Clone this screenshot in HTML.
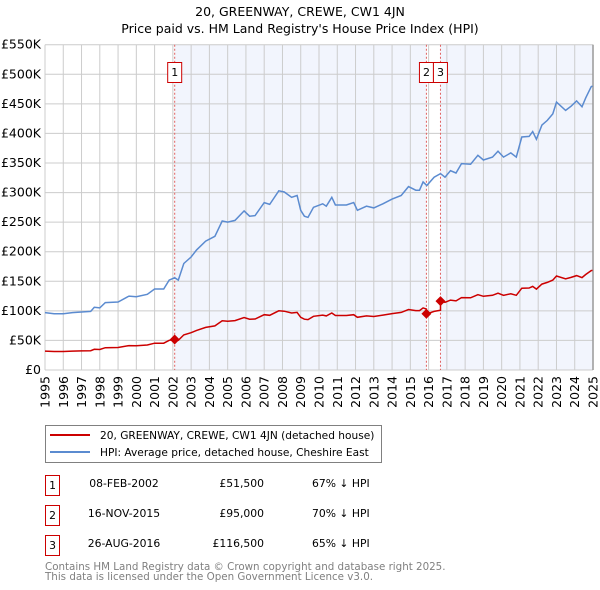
<!DOCTYPE html>
<html><head><meta charset="utf-8"><style>
body{margin:0;width:600px;height:590px;background:#fff;font-family:"DejaVu Sans","Liberation Sans",sans-serif;overflow:hidden}
</style></head><body>
<svg id="chart" width="600" height="590" xmlns="http://www.w3.org/2000/svg" style="position:absolute;left:0;top:0;font-family:'DejaVu Sans','Liberation Sans',sans-serif">
<text x="300" y="16" text-anchor="middle" font-size="12.5">20, GREENWAY, CREWE, CW1 4JN</text>
<text x="300" y="33" text-anchor="middle" font-size="12.5">Price paid vs. HM Land Registry's House Price Index (HPI)</text>
<g id="plot"></g>
<g>
<rect x="45.5" y="425.5" width="336" height="37" fill="#fff" stroke="#808080"/>
<line x1="50" y1="435" x2="90" y2="435" stroke="#cc0000" stroke-width="2"/>
<text x="100" y="439" font-size="10.6">20, GREENWAY, CREWE, CW1 4JN (detached house)</text>
<line x1="50" y1="452" x2="90" y2="452" stroke="#5b8bd0" stroke-width="2"/>
<text x="100" y="456" font-size="10.6">HPI: Average price, detached house, Cheshire East</text>
</g>
<g font-size="10.8">
<rect x="45.5" y="475.5" width="14" height="20" fill="#fff" stroke="#cc0000"/><text x="52.5" y="489" text-anchor="middle">1</text>
<text x="124" y="487" text-anchor="middle">08-FEB-2002</text><text x="264" y="487" text-anchor="end">£51,500</text><text x="312" y="487">67% ↓ HPI</text>
<rect x="45.5" y="505.5" width="14" height="20" fill="#fff" stroke="#cc0000"/><text x="52.5" y="519" text-anchor="middle">2</text>
<text x="124" y="517" text-anchor="middle">16-NOV-2015</text><text x="264" y="517" text-anchor="end">£95,000</text><text x="312" y="517">70% ↓ HPI</text>
<rect x="45.5" y="535.5" width="14" height="20" fill="#fff" stroke="#cc0000"/><text x="52.5" y="549" text-anchor="middle">3</text>
<text x="124" y="547" text-anchor="middle">26-AUG-2016</text><text x="264" y="547" text-anchor="end">£116,500</text><text x="312" y="547">65% ↓ HPI</text>
</g>
<text x="45" y="570" font-size="10.3" fill="#808080">Contains HM Land Registry data © Crown copyright and database right 2025.</text>
<text x="45" y="580" font-size="10.3" fill="#808080">This data is licensed under the Open Government Licence v3.0.</text>
</svg>
<script>
const hpiYears=[1995,1995.5,1996,1996.5,1997,1997.5,1997.7,1998,1998.3,1999,1999.6,2000,2000.6,2001,2001.5,2001.8,2002.1,2002.3,2002.6,2003,2003.3,2003.8,2004.3,2004.7,2005,2005.4,2005.9,2006.2,2006.5,2007,2007.3,2007.8,2008.1,2008.5,2008.8,2009,2009.2,2009.4,2009.7,2010.2,2010.4,2010.7,2010.9,2011.5,2011.9,2012.1,2012.6,2013,2013.5,2014,2014.5,2014.9,2015.3,2015.5,2015.7,2015.9,2016.3,2016.65,2016.9,2017.2,2017.5,2017.8,2018.3,2018.7,2019,2019.5,2019.8,2020.1,2020.5,2020.8,2021.1,2021.5,2021.7,2021.9,2022.2,2022.5,2022.8,2023,2023.5,2023.8,2024.1,2024.4,2024.6,2024.9,2024.97];
const hpiValues=[97,95,95,97,98,99,106,105,114,115,125,124,128,137,137,152,156,152,180,191,203,218,226,252,250,253,269,260,261,283,280,303,301,292,295,270,260,258,275,281,277,292,279,279,283,270,277,274,281,289,295,310,304,304,318,312,326,332,326,337,333,349,348,363,355,360,370,360,367,360,394,395,403,390,414,422,433,453,439,446,455,445,460,479,480];
const saleDates=[2002.1,2015.88,2016.65];
const salePrices=[51.5,95,116.5];
const saleLabels=["1","2","3"];
const yTicks=[0,50,100,150,200,250,300,350,400,450,500,550];
const xTicks=[1995,1996,1997,1998,1999,2000,2001,2002,2003,2004,2005,2006,2007,2008,2009,2010,2011,2012,2013,2014,2015,2016,2017,2018,2019,2020,2021,2022,2023,2024,2025];

const X0=45,X1=593,Y0=370,Y1=44.7;
const sx=y=>X0+(y-1995)/30*(X1-X0);
const sy=v=>Y0-v/550*(Y0-Y1);
const NS="http://www.w3.org/2000/svg";
const plot=document.getElementById('plot');
function mk(tag,attrs,parent){const e=document.createElementNS(NS,tag);for(const k in attrs)e.setAttribute(k,attrs[k]);(parent||plot).appendChild(e);return e;}
function hpiAt(t){for(let i=0;i<hpiYears.length-1;i++){if(t<=hpiYears[i+1]){const f=(t-hpiYears[i])/(hpiYears[i+1]-hpiYears[i]);return hpiValues[i]+f*(hpiValues[i+1]-hpiValues[i]);}}return hpiValues[hpiValues.length-1];}

const bg1=mk('rect',{x:sx(saleDates[0]),y:Y1,width:sx(saleDates[1])-sx(saleDates[0]),height:Y0-Y1,fill:'#f2f5fd'});


const bg2=mk('rect',{x:sx(saleDates[2]),y:Y1,width:X1-sx(saleDates[2]),height:Y0-Y1,fill:'#f2f5fd'});


yTicks.forEach(v=>{
 const l=mk('line',{x1:X0,x2:X1,y1:sy(v),y2:sy(v),stroke:'#cccccc','stroke-width':1});
 
 
 const t=mk('text',{x:X0-4,y:sy(v)+4,'text-anchor':'end','font-size':12.5});
 
 
 t.textContent=v===0?'£0':'£'+v+'K';
});
xTicks.forEach(y=>{
 const l=mk('line',{x1:sx(y),x2:sx(y),y1:Y1,y2:Y0,stroke:'#cccccc','stroke-width':1});
 
 
 const t=mk('text',{x:0,y:0,'text-anchor':'end','font-size':12.5,transform:`translate(${sx(y)+4.5},${Y0+6}) rotate(-90)`});
 
 
 t.textContent=y;
});
const ax=mk('line',{x1:X1,x2:X1,y1:Y1,y2:Y0,stroke:'#999','stroke-width':1.5});


saleDates.forEach((d,i)=>{
 const l=mk('line',{x1:sx(d),x2:sx(d),y1:Y1,y2:Y0,stroke:'#e06060','stroke-dasharray':'2,2','stroke-width':1});
 
 
});
saleDates.forEach((d,i)=>{
 let cx=sx(d);
 if(i===1)cx=(sx(saleDates[1])+sx(saleDates[2]))/2-7;
 if(i===2)cx=(sx(saleDates[1])+sx(saleDates[2]))/2+7;
 const g=mk('g',{});
 
 
 mk('rect',{x:cx-7,y:62.5,width:14,height:20,fill:'#fff',stroke:'#cc0000'},g);
 const t=mk('text',{x:cx,y:76,'text-anchor':'middle','font-size':11},g);t.textContent=saleLabels[i];
});
let dh='';
hpiYears.forEach((y,i)=>{dh+=(i?'L':'M')+sx(y).toFixed(1)+','+sy(hpiValues[i]).toFixed(1);});
const hp=mk('path',{d:dh,fill:'none',stroke:'#5b8bd0','stroke-width':1.5});


const factors=saleDates.map((d,i)=>salePrices[i]/hpiAt(d));
function factorAt(t){let f=factors[0];for(let i=0;i<saleDates.length;i++)if(t>=saleDates[i])f=factors[i];return f;}
let pts=[];
hpiYears.forEach((y,i)=>pts.push([y,hpiValues[i]*factorAt(y)]));
saleDates.forEach((d,i)=>{pts.push([d-0.0001,hpiAt(d)*(i?factors[i-1]:factors[0])]);pts.push([d,salePrices[i]]);});
pts.sort((a,b)=>a[0]-b[0]);
let dp='';pts.forEach((p,i)=>{dp+=(i?'L':'M')+sx(p[0]).toFixed(1)+','+sy(p[1]).toFixed(1);});
const pp=mk('path',{d:dp,fill:'none',stroke:'#cc0000','stroke-width':1.5});


saleDates.forEach((d,i)=>{
 const x=sx(d),y=sy(salePrices[i]);
 const m=mk('path',{d:`M${x},${y-5}L${x+5},${y}L${x},${y+5}L${x-5},${y}Z`,fill:'#cc0000'});
 
 
});
</script>
</body></html>
